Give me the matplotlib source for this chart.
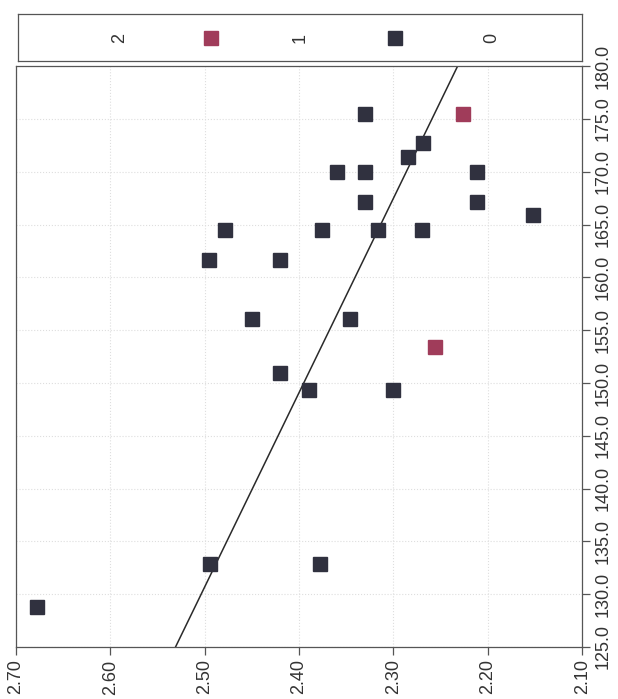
import matplotlib.pyplot as plt
import numpy as np

plt.rcParams['font.family'] = ['Liberation Sans', 'DejaVu Sans']

# group 0 (dark squares): value on the 2.10-2.70 scale, value on the 125-180 scale
val_0 = [2.330, 2.269, 2.285, 2.360, 2.330, 2.211, 2.330, 2.211, 2.152, 2.479,
         2.376, 2.316, 2.270, 2.495, 2.420, 2.450, 2.346, 2.420, 2.390, 2.300,
         2.494, 2.378, 2.678]
ang_0 = [175.5, 172.7, 171.4, 170.0, 170.0, 170.0, 167.1, 167.1, 165.9, 164.5,
         164.5, 164.5, 164.5, 161.6, 161.6, 156.1, 156.1, 150.9, 149.3, 149.3,
         132.9, 132.9, 128.8]
# group 1 (red squares)
val_1 = [2.226, 2.256]
ang_1 = [175.5, 153.4]
# fitted line
fit_ang = [125.0, 180.0]
fit_val = [2.531, 2.232]

val_ticks = [2.70, 2.60, 2.50, 2.40, 2.30, 2.20, 2.10]
ang_ticks = np.arange(125, 181, 5)

dark = '#30313f'
red = '#a03c5a'
frame = '#555555'

fig = plt.figure(figsize=(6.18, 6.99), dpi=100)
ax = fig.add_axes([0.026, 0.0744, 0.916, 0.831])

ax.plot(fit_val, fit_ang, color='#2a2a2a', lw=1.1, zorder=2)
ax.plot(val_0, ang_0, 's', color=dark, markersize=10, zorder=3)
ax.plot(val_1, ang_1, 's', color=red, markersize=10, zorder=3)

ax.set_xlim(2.70, 2.10)
ax.set_ylim(125, 180)
ax.set_xticks(val_ticks)
ax.set_xticklabels(['%.2f' % v for v in val_ticks], rotation=90, fontsize=13, color='#333333')
ax.set_yticks(ang_ticks)
ax.yaxis.tick_right()
ax.set_yticklabels(['%.1f' % a for a in ang_ticks], rotation=90, va='center', fontsize=13, color='#333333')
ax.tick_params(length=6, width=0.9, color=frame, pad=3)
ax.grid(color='#dedede', linestyle=':', linewidth=0.8)
for s in ax.spines.values():
    s.set_color(frame)
    s.set_linewidth(0.9)

# legend box at top, rotated like the rest
lg = fig.add_axes([0.029, 0.9127, 0.913, 0.0672])
lg.set_xlim(0, 1)
lg.set_ylim(0, 1)
lg.set_xticks([])
lg.set_yticks([])
for s in lg.spines.values():
    s.set_color(frame)
    s.set_linewidth(0.9)
lg.text(0.18, 0.5, '2', rotation=90, ha='center', va='center', fontsize=13, color='#333333')
lg.plot([0.343], [0.5], 's', color=red, markersize=10)
lg.text(0.50, 0.5, '1', rotation=90, ha='center', va='center', fontsize=13, color='#333333')
lg.plot([0.668], [0.5], 's', color=dark, markersize=10)
lg.text(0.84, 0.5, '0', rotation=90, ha='center', va='center', fontsize=13, color='#333333')

fig.savefig('out.png', dpi=100)
